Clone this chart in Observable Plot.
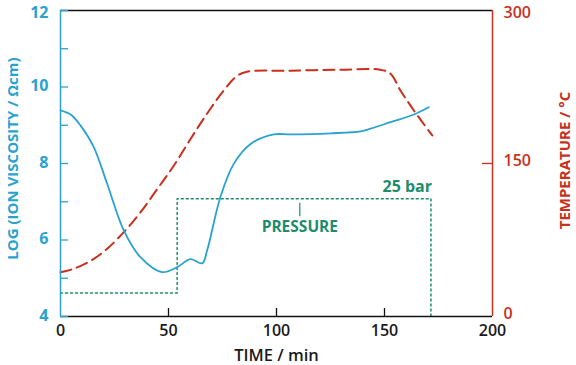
<!DOCTYPE html>
<html>
<head>
<meta charset="utf-8">
<script src="https://cdn.jsdelivr.net/npm/d3@7"></script>
<script src="https://cdn.jsdelivr.net/npm/@observablehq/plot@0.6"></script>
<style>
  html, body { margin: 0; padding: 0; background: #fff; }
  #chart svg { display: block; }
</style>
</head>
<body>
<div id="chart"></div>
<script>
// Ion viscosity (log, Ωcm) vs time (min)
const viscTime = [0, 5, 9.3, 15.4, 21.6, 29.3, 37, 47, 54, 60.2, 65.6, 67.9, 74, 80.2, 88, 98.8, 106.5, 125, 139, 143.5, 152.8, 163.6, 170.5];
const viscLog  = [9.39, 9.27, 8.99, 8.43, 7.47, 6.25, 5.55, 5.16, 5.29, 5.50, 5.39, 5.73, 7.12, 7.99, 8.51, 8.76, 8.76, 8.79, 8.84, 8.91, 9.08, 9.28, 9.47];

// Temperature (°C) vs time (min)
const tempTime = [0, 6.2, 15.4, 21.6, 29.3, 37, 44.8, 52.5, 60.2, 67.9, 75.6, 81.8, 86.4, 106.5, 130, 148, 152.8, 157.4, 163.6, 172.1];
const tempC    = [43.4, 46.8, 56.5, 66.4, 82.7, 102, 125, 148, 174, 199, 221.6, 236, 240, 241, 242, 242, 238, 221.6, 202, 177.5];

// Pressure (bar) step profile vs time (min)
const pressTime = [0, 54, 54, 171.5, 171.5];
const pressBar  = [5, 5, 25, 25, 0];

// Tick labels
const xTicks = [0, 50, 100, 150, 200];
const yTicks = [4, 6, 8, 10, 12];
const yMinorTicks = [5, 7, 9, 11];
const tempTicks = [0, 150, 300];

const BLUE = "#2aa2d0";
const RED = "#c8301c";
const GREEN = "#1e8c6c";
const FONT = "Open Sans";

// map secondary quantities onto the left (log viscosity) axis
const tempToY = t => 4 + t / 300 * 8;
const pressToY = p => 4 + p * (3.08 / 25);

const visc = viscTime.map((t, i) => ({t, v: viscLog[i]}));
const temp = tempTime.map((t, i) => ({t, v: tempToY(tempC[i])}));
const press = pressTime.map((t, i) => ({t, v: pressToY(pressBar[i])}));

const W = 576, H = 365, ML = 60, MR = 84, MT = 10, MB = 49;
const FW = W - ML - MR, FH = H - MT - MB;

const yTop = yTicks[yTicks.length - 1];
const tTop = tempTicks[tempTicks.length - 1];
const tempFmt = d => String(Math.round((d - 4) / 8 * 300));

const chart = Plot.plot({
  width: W, height: H,
  marginLeft: ML, marginRight: MR, marginTop: MT, marginBottom: MB,
  x: {domain: [0, 200]},
  y: {domain: [4, 12]},
  style: {fontFamily: FONT, fontSize: "16px", fontWeight: 600, background: "#fff"},
  marks: [
    // pressure step
    Plot.line(press, {x: "t", y: "v", stroke: GREEN, strokeWidth: 1.5, strokeDasharray: "2,3"}),
    // temperature
    Plot.line(temp, {x: "t", y: "v", stroke: RED, strokeWidth: 2, strokeDasharray: "11,6", curve: "catmull-rom"}),
    // viscosity
    Plot.line(visc, {x: "t", y: "v", stroke: BLUE, strokeWidth: 1.8, curve: "catmull-rom"}),
    // frame lines
    Plot.ruleY([12], {stroke: "#111", strokeWidth: 1.3}),
    Plot.ruleY([4], {stroke: "#111", strokeWidth: 1.3}),
    Plot.ruleX([0], {stroke: BLUE, strokeWidth: 1.5}),
    Plot.ruleX([200], {stroke: RED, strokeWidth: 1.5}),
    // inner ticks
    Plot.ruleY(yTicks.concat(yMinorTicks), {stroke: BLUE, strokeWidth: 1.3, insetRight: FW - 8}),
    Plot.ruleX(xTicks.slice(1, -1), {stroke: "#111", strokeWidth: 1.3, insetTop: FH - 8}),
    Plot.ruleY([tempToY(150)], {stroke: RED, strokeWidth: 1.3, insetLeft: FW - 10}),
    // axes labels
    Plot.axisX({ticks: xTicks, tickSize: 0, tickPadding: 8, fill: "#1a1a1a", fontSize: 16, fontWeight: 600, label: null}),
    Plot.axisY({anchor: "left", ticks: yTicks.filter(d => d !== yTop), tickSize: 0, tickPadding: 12, dy: -1, fill: BLUE, fontSize: 16, fontWeight: 700, label: null}),
    Plot.axisY({anchor: "left", ticks: [yTop], tickSize: 0, tickPadding: 12, dy: 2, fill: BLUE, fontSize: 16, fontWeight: 700, label: null}),
    Plot.axisY({anchor: "right", ticks: tempTicks.filter(d => d !== tTop).map(tempToY), tickFormat: tempFmt, tickSize: 0, tickPadding: 11, dy: -3, fill: RED, fontSize: 16, fontWeight: 600, label: null}),
    Plot.axisY({anchor: "right", ticks: [tempToY(tTop)], tickFormat: tempFmt, tickSize: 0, tickPadding: 11, dy: 2, fill: RED, fontSize: 16, fontWeight: 600, label: null}),
    Plot.text(["TIME / min"], {frameAnchor: "bottom", dy: 44, fill: "#1a1a1a", fontSize: 16.5, fontWeight: 600}),
    Plot.text(["LOG (ION VISCOSITY / Ωcm)"], {frameAnchor: "left", textAnchor: "middle", dx: -47, dy: -5, rotate: -90, fill: BLUE, fontSize: 15, fontWeight: 700}),
    Plot.text(["TEMPERATURE / °C"], {frameAnchor: "right", textAnchor: "middle", dx: 73, dy: -3, rotate: -90, fill: RED, fontSize: 15, fontWeight: 700}),
    // pressure annotations
    Plot.text(["25 bar"], {x: 172, y: pressToY(25), dy: -12, textAnchor: "end", fill: GREEN, fontSize: 16, fontWeight: 700}),
    Plot.ruleX([110.8], {y1: 6.96, y2: 6.61, stroke: GREEN, strokeWidth: 1.2}),
    Plot.text(["PRESSURE"], {x: 110.8, y: 6.33, fill: GREEN, fontSize: 15.5, fontWeight: 700})
  ]
});

document.getElementById("chart").appendChild(chart);
</script>
</body>
</html>
